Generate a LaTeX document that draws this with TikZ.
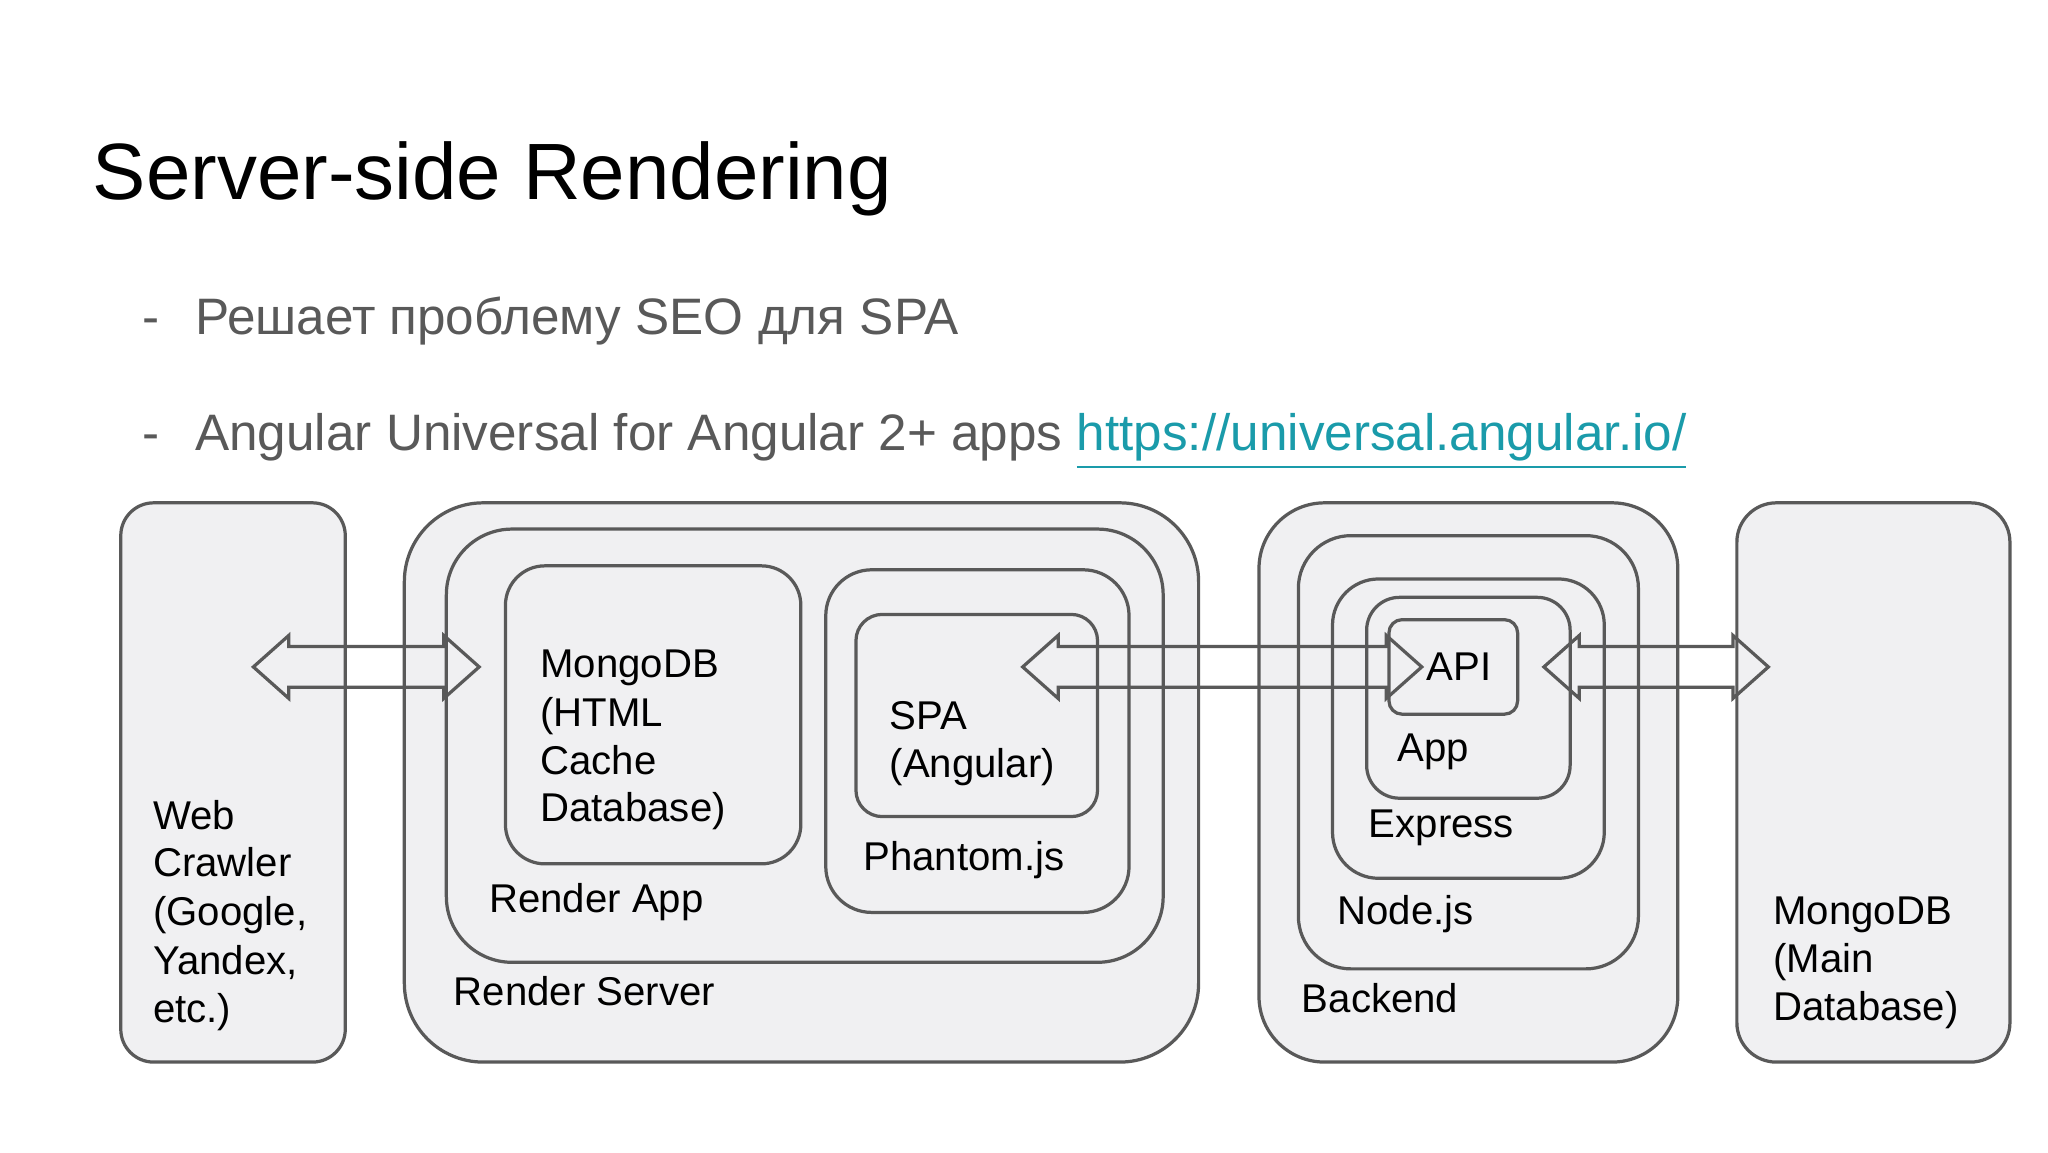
\documentclass[tikz,border=0pt]{standalone}
\usepackage{fontspec}
\setmainfont{Liberation Sans}
\begin{document}
\begin{tikzpicture}[x=0.01cm,y=-0.01cm,
  box/.style={draw=black!65,fill=boxfill,line width=0.7pt},
  lbl/.style={anchor=base west,inner sep=0pt,font=\fontsize{8.7pt}{10.4pt}\selectfont,text=black},
  bul/.style={anchor=base west,inner sep=0pt,font=\fontsize{11.1pt}{13pt}\selectfont,text=txtgrey}]
\definecolor{boxfill}{HTML}{F0F0F2}
\definecolor{txtgrey}{HTML}{595959}
\definecolor{linkc}{HTML}{1A9BAA}
\useasboundingbox[fill=white] (0,0) rectangle (1560,878);
\node[anchor=base west,inner sep=0pt,font=\fontsize{17.3pt}{21pt}\selectfont] (title) at (70,152) {Server-side Rendering};
\node[bul] (d1) at (108,255) {-};
\node[bul] (b1) at (148,255) {Решает проблему SEO для SPA};
\node[bul] (d2) at (108,343) {-};
\node[bul] (b2) at (148,343) {Angular Universal for Angular 2+ apps \textcolor{linkc}{\underline{https://universal.angular.io/}}};
% boxes
\draw[box,rounded corners=0.25cm] (92,383) rectangle (263,809);
\draw[box,rounded corners=0.6cm] (308,383) rectangle (913,809);
\draw[box,rounded corners=0.5cm] (340,403) rectangle (886,733);
\draw[box,rounded corners=0.3cm] (385,431) rectangle (610,658);
\draw[box,rounded corners=0.35cm] (629,434) rectangle (860,695);
\draw[box,rounded corners=0.2cm] (652,468) rectangle (836,622);
\draw[box,rounded corners=0.5cm] (959,383) rectangle (1278,809);
\draw[box,rounded corners=0.4cm] (989,408) rectangle (1248,738);
\draw[box,rounded corners=0.35cm] (1015,441) rectangle (1222,669);
\draw[box,rounded corners=0.25cm] (1041,455) rectangle (1196,608);
\draw[box,rounded corners=0.1cm] (1058,472) rectangle (1156,544);
\draw[box,rounded corners=0.3cm] (1323,383) rectangle (1531,809);
% arrows
\foreach \L/\R in {193/365, 779/1083, 1176/1347}{
  \draw[draw=black!65,line width=0.7pt,line join=miter]
    (\L,508) -- (\L+27,484) -- (\L+27,492.5) -- (\R-27,492.5) -- (\R-27,484) -- (\R,508)
    -- (\R-27,532) -- (\R-27,523.5) -- (\L+27,523.5) -- (\L+27,532) -- cycle;
}
% labels
\node[lbl] (wc1) at (116,632) {Web};
\node[lbl] (wc2) at (116,668) {Crawler};
\node[lbl] (wc3) at (116,705) {(Google,};
\node[lbl] (wc4) at (116,742) {Yandex,};
\node[lbl] (wc5) at (116,779) {etc.)};
\node[lbl] (mc1) at (411,516) {MongoDB};
\node[lbl] (mc2) at (411,553) {(HTML};
\node[lbl] (mc3) at (411,590) {Cache};
\node[lbl] (mc4) at (411,626) {Database)};
\node[lbl] (ra) at (372,695) {Render App};
\node[lbl] (rs) at (345,766) {Render Server};
\node[lbl] (spa1) at (677,556) {SPA};
\node[lbl] (spa2) at (677,592) {(Angular)};
\node[lbl] (ph) at (657,663) {Phantom.js};
\node[lbl] (api) at (1086,518) {API};
\node[lbl] (app) at (1064,580) {App};
\node[lbl] (ex) at (1042,638) {Express};
\node[lbl] (nj) at (1018,704) {Node.js};
\node[lbl] (be) at (991,771) {Backend};
\node[lbl] (mm1) at (1350,704) {MongoDB};
\node[lbl] (mm2) at (1350,741) {(Main};
\node[lbl] (mm3) at (1350,777) {Database)};
\end{tikzpicture}
\end{document}
